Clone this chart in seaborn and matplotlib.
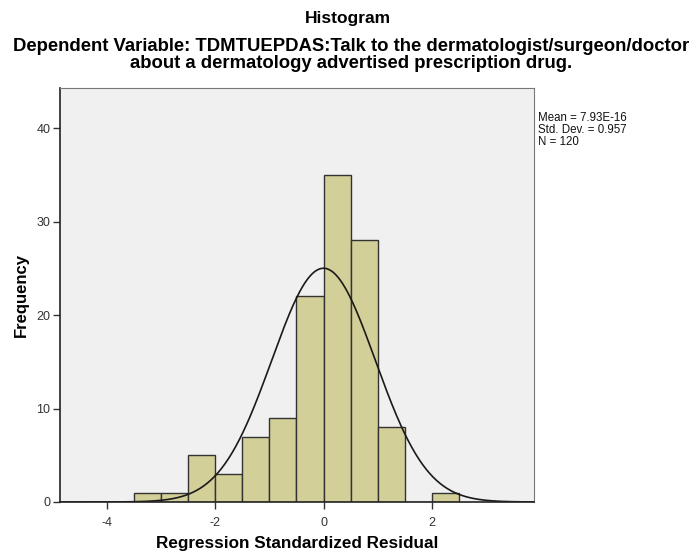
import numpy as np
import pandas as pd
import matplotlib
matplotlib.use("Agg")
import matplotlib.pyplot as plt
import seaborn as sns

# Data
bin_edges = [-3.5, -3.0, -2.5, -2.0, -1.5, -1.0, -0.5, 0.0, 0.5, 1.0, 1.5, 2.0, 2.5]
counts = [1, 1, 5, 3, 7, 9, 22, 35, 28, 8, 0, 1]
mean_val = 7.93e-16
std_val = 0.957
n_val = 120
x_ticks = [-4, -2, 0, 2]
y_ticks = [0, 10, 20, 30, 40]

sns.set_theme(style="white")
plt.rcParams['font.family'] = ['Liberation Sans', 'DejaVu Sans']
plt.rcParams['text.color'] = 'black'
plt.rcParams['axes.labelcolor'] = 'black'

centers = [(a + b) / 2 for a, b in zip(bin_edges[:-1], bin_edges[1:])]
df = pd.DataFrame({"x": centers, "w": counts})

fig = plt.figure(figsize=(6.96, 5.56), dpi=100)
W, H = 696, 556
ax = fig.add_axes([60 / W, (H - 502) / H, (534 - 60) / W, (502 - 88) / H])
ax.set_facecolor("#f0f0f0")

sns.histplot(data=df, x="x", weights="w", bins=bin_edges, ax=ax,
             color="#d3cf98", edgecolor="#333333", linewidth=1.0, alpha=1.0)

# Normal curve
bw = bin_edges[1] - bin_edges[0]
xs = np.linspace(-4.87, 3.89, 400)
ys = n_val * bw / (std_val * np.sqrt(2 * np.pi)) * np.exp(-0.5 * ((xs - mean_val) / std_val) ** 2)
sns.lineplot(x=xs, y=ys, ax=ax, color="#1a1a1a", linewidth=1.2)

ax.set_xlim(-4.87, 3.89)
ax.set_ylim(0, 44.3)
ax.set_xticks(x_ticks)
ax.set_xticklabels([str(t) for t in x_ticks])
ax.set_yticks(y_ticks)
ax.set_yticklabels([str(t) for t in y_ticks])
ax.tick_params(axis="both", direction="out", length=5, width=1, color="#333333",
               labelsize=9, labelcolor="#333333")
ax.tick_params(axis="x", bottom=True, pad=6)
ax.tick_params(axis="y", left=True, pad=2)

for side in ["left", "bottom"]:
    ax.spines[side].set_color("#222222")
    ax.spines[side].set_linewidth(1.2)
for side in ["top", "right"]:
    ax.spines[side].set_color("#777777")
    ax.spines[side].set_linewidth(0.8)

ax.set_xlabel("Regression Standardized Residual", fontsize=12.3, fontweight="bold", labelpad=5)
ax.set_ylabel("Frequency", fontsize=12, fontweight="bold", labelpad=5)

fig.text(0.5, 1 - 19 / H, "Histogram", ha="center", va="center", fontsize=12.5, fontweight="bold")
fig.text(0.505, 1 - 55 / H,
         "Dependent Variable: TDMTUEPDAS:Talk to the dermatologist/surgeon/doctor\n"
         "about a dermatology advertised prescription drug.",
         ha="center", va="center", fontsize=13.3, fontweight="bold", linespacing=0.95)

fig.text(538 / W, 1 - 130 / H,
         f"Mean = {'7.93E-16'}\nStd. Dev. = {std_val}\nN = {n_val}",
         ha="left", va="center", fontsize=8.3, linespacing=1.05, color="#111111")

fig.savefig("out.png", dpi=100)
